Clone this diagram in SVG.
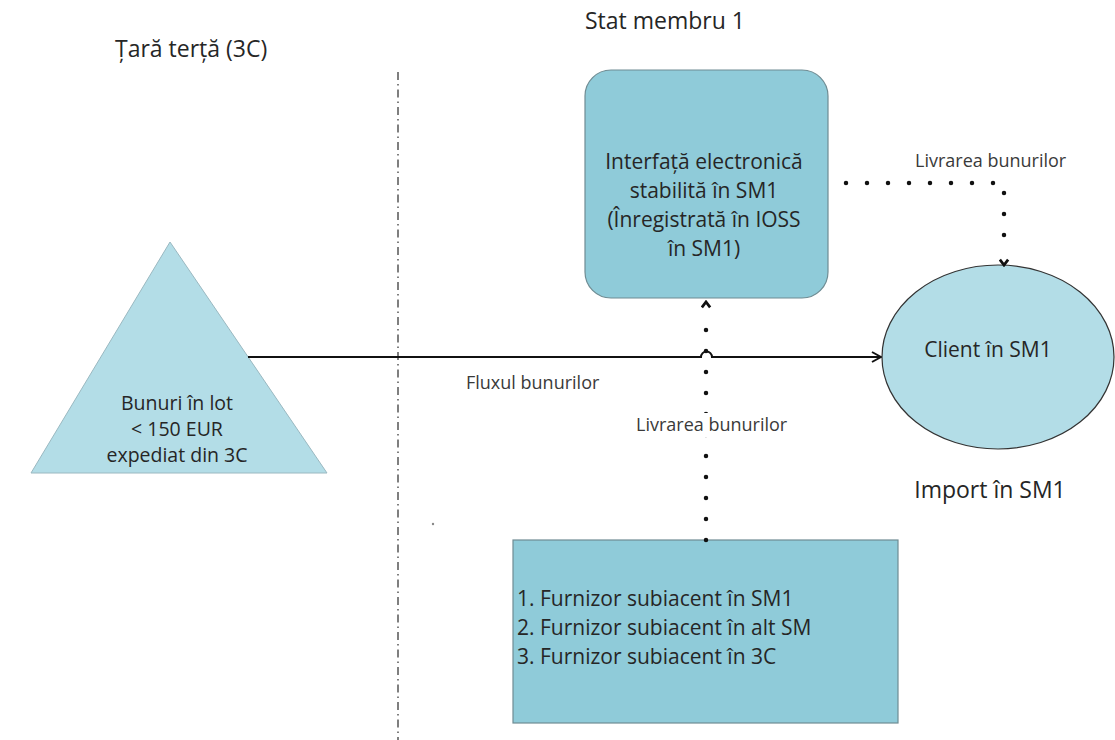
<svg xmlns="http://www.w3.org/2000/svg" width="1115" height="740" viewBox="0 0 1115 740">
  <style>
    text { font-family: "Open Sans", "Noto Sans", sans-serif; fill: #262626; }
    .title { font-size: 23px; }
    .node { font-size: 21px; }
    .tri { font-size: 19.5px; }
    .label { font-size: 18px; fill: #3a3a3a; }
    .box { fill: #8fcbd9; stroke: #6f8c93; stroke-width: 1.2; }
    .soft { fill: #b3dde7; }
    .flow { fill: none; stroke: #111; stroke-width: 2; }
    .dots { fill: none; stroke: #111; stroke-width: 4.5; stroke-linecap: round; stroke-dasharray: 0 21; }
    .divider { fill: none; stroke: #555; stroke-width: 1.5; stroke-dasharray: 8 4 1.5 4; }
  </style>
  <defs>
    <marker id="open" viewBox="0 0 12 12" refX="11" refY="6" markerWidth="12" markerHeight="12" markerUnits="userSpaceOnUse" orient="auto">
      <path d="M2,1 L11,6 L2,11" fill="none" stroke="#111" stroke-width="2"/>
    </marker>
    <marker id="chev" viewBox="0 0 12 12" refX="11" refY="6" markerWidth="11" markerHeight="11" markerUnits="userSpaceOnUse" orient="auto">
      <path d="M4,1.5 L10,6 L4,10.5" fill="none" stroke="#111" stroke-width="3"/>
    </marker>
  </defs>

  <rect width="1115" height="740" fill="#fff"/>

  <!-- region headings and border -->
  <g id="regions">
    <text class="title" x="115" y="57">Țară terță (3C)</text>
    <text class="title" x="585" y="29">Stat membru 1</text>
    <line class="divider" x1="398" y1="72" x2="398" y2="740"/>
    <circle cx="433" cy="524" r="1.2" fill="#888"/>
  </g>

  <!-- consignment origin -->
  <g id="goods">
    <polygon class="soft" points="170,242 31,473 327,473" stroke="#9ab8c0" stroke-width="1"/>
    <text class="tri" text-anchor="middle" x="177" y="410">Bunuri în lot</text>
    <text class="tri" text-anchor="middle" x="177" y="436">&lt; 150 EUR</text>
    <text class="tri" text-anchor="middle" x="177" y="462">expediat din 3C</text>
  </g>

  <!-- electronic interface -->
  <g id="interface">
    <rect class="box" x="585" y="70" width="243" height="228" rx="26" ry="26"/>
    <text class="node" text-anchor="middle" x="704" y="169">Interfață electronică</text>
    <text class="node" text-anchor="middle" x="704" y="198">stabilită în SM1</text>
    <text class="node" text-anchor="middle" x="704" y="227">(Înregistrată în IOSS</text>
    <text class="node" text-anchor="middle" x="704" y="256">în SM1)</text>
  </g>

  <!-- customer -->
  <g id="client">
    <ellipse class="soft" cx="998" cy="357" rx="116" ry="92" stroke="#333" stroke-width="1.2"/>
    <text class="node" text-anchor="middle" x="988" y="357">Client în SM1</text>
    <text class="title" text-anchor="middle" x="990" y="498">Import în SM1</text>
  </g>

  <!-- underlying suppliers -->
  <g id="suppliers">
    <rect class="box" x="513" y="540" width="385" height="183"/>
    <text class="node" x="517" y="606">1. Furnizor subiacent în SM1</text>
    <text class="node" x="517" y="635">2. Furnizor subiacent în alt SM</text>
    <text class="node" x="517" y="664">3. Furnizor subiacent în 3C</text>
  </g>

  <!-- connectors -->
  <g id="connectors">
    <path class="flow" d="M248,357 H701 A5.5,5.5 0 0 1 712,357 H881" marker-end="url(#open)"/>
    <text class="label" x="466" y="389">Fluxul bunurilor</text>

    <path class="dots" d="M706,540 V312"/>
    <line x1="706" y1="312" x2="706" y2="301" stroke="none" marker-end="url(#chev)"/>
    <rect x="634" y="413" width="124" height="24" fill="#fff"/>
    <text class="label" x="636" y="431">Livrarea bunurilor</text>

    <path class="dots" d="M846,183 H1004 V250"/>
    <line x1="1004" y1="255" x2="1004" y2="266" stroke="none" marker-end="url(#chev)"/>
    <text class="label" x="915" y="167">Livrarea bunurilor</text>
  </g>
</svg>
